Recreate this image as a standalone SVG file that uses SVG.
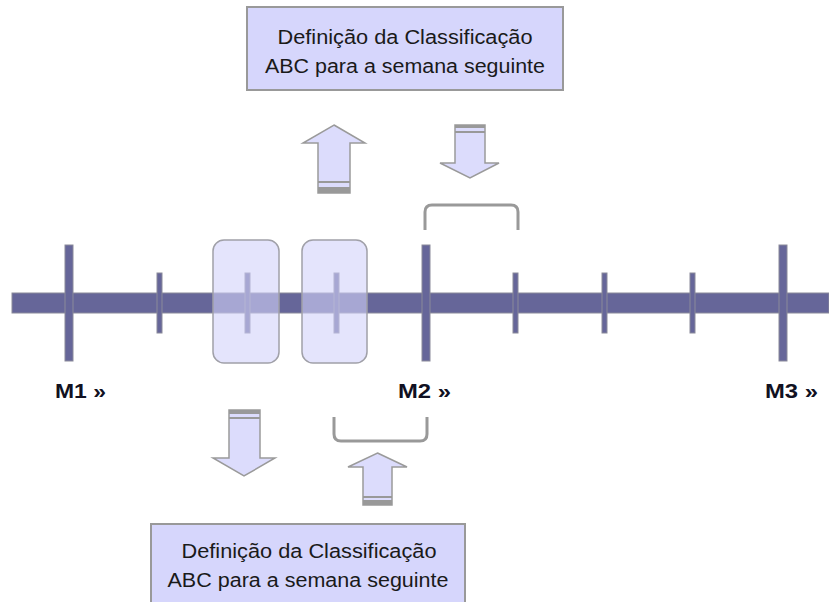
<svg xmlns="http://www.w3.org/2000/svg" width="829" height="602" viewBox="0 0 829 602">
<style>
.bar{fill:#666699;stroke:#8a8a9a;stroke-width:1}
.box{fill:#d6d6fc;stroke:#999999;stroke-width:2}
.txt{font-family:"Liberation Sans",Arial,sans-serif;font-size:20px;fill:#1a1a1a;text-anchor:middle}
.lbl{font-family:"Liberation Sans",Arial,sans-serif;font-size:20px;font-weight:bold;fill:#111122}
.arr{fill:#dcdcfc;stroke:#9a9a9a;stroke-width:1.5}
.stripe{fill:#999999}
.win{fill:#d2d2fa;fill-opacity:0.6;stroke:#a0a0a8;stroke-width:1.5}
.brk{fill:none;stroke:#999999;stroke-width:3}
</style>
<rect width="829" height="602" fill="#ffffff"/>
<g id="timeline">
<rect class="bar" x="12" y="293" width="817" height="20"/>
<rect class="bar" x="65" y="245" width="8" height="116"/>
<rect class="bar" x="157" y="273" width="5" height="60"/>
<rect class="bar" x="245" y="273" width="5" height="60"/>
<rect class="bar" x="334" y="273" width="5" height="60"/>
<rect class="bar" x="422" y="245" width="8" height="116"/>
<rect class="bar" x="513" y="273" width="5" height="60"/>
<rect class="bar" x="602" y="273" width="5" height="60"/>
<rect class="bar" x="690" y="273" width="5" height="60"/>
<rect class="bar" x="779" y="245" width="8" height="116"/>
</g>
<g id="week-window-1"><rect class="win" x="213" y="240" width="66" height="123" rx="11"/></g>
<g id="week-window-2"><rect class="win" x="302" y="240" width="65" height="123" rx="11"/></g>
<g id="labels">
<text class="lbl" x="55" y="398" textLength="51" lengthAdjust="spacingAndGlyphs">M1 »</text>
<text class="lbl" x="398" y="398" textLength="53" lengthAdjust="spacingAndGlyphs">M2 »</text>
<text class="lbl" x="765" y="398" textLength="53" lengthAdjust="spacingAndGlyphs">M3 »</text>
</g>
<g id="box-top">
<rect class="box" x="247" y="7" width="316" height="83"/>
<text class="txt" x="405" y="44" textLength="255" lengthAdjust="spacingAndGlyphs">Definição da Classificação</text>
<text class="txt" x="405" y="73" textLength="280" lengthAdjust="spacingAndGlyphs">ABC para a semana seguinte</text>
</g>
<g id="box-bottom">
<rect class="box" x="151" y="524" width="314" height="85"/>
<text class="txt" x="309" y="558" textLength="255" lengthAdjust="spacingAndGlyphs">Definição da Classificação</text>
<text class="txt" x="308" y="587" textLength="281" lengthAdjust="spacingAndGlyphs">ABC para a semana seguinte</text>
</g>
<g id="connectors">
<g id="arrow-up-top">
<polygon class="arr" points="334,125 365,143 350,143 350,193 318,193 318,143 303,143"/>
<rect class="stripe" x="318" y="181" width="32" height="2"/>
<rect class="stripe" x="318" y="187" width="32" height="6"/>
</g>
<g id="arrow-down-top">
<polygon class="arr" points="455,125 485,125 485,163 499,163 470,178 440,163 455,163"/>
<rect class="stripe" x="455" y="125" width="30" height="3"/>
<rect class="stripe" x="455" y="131" width="30" height="2"/>
</g>
<g id="arrow-down-bottom">
<polygon class="arr" points="229,410 260,410 260,458 275,458 244,476 213,458 229,458"/>
<rect class="stripe" x="229" y="410" width="31" height="4"/>
<rect class="stripe" x="229" y="417" width="31" height="2"/>
</g>
<g id="arrow-up-bottom">
<polygon class="arr" points="377.5,453 407,467 392,467 392,505 363,505 363,467 348,467"/>
<rect class="stripe" x="363" y="496" width="29" height="2"/>
<rect class="stripe" x="363" y="500" width="29" height="5"/>
</g>
<path class="brk" d="M425,230 L425,212 Q425,205 432,205 L511,205 Q518,205 518,212 L518,230"/>
<path class="brk" d="M334,417 L334,434 Q334,441 341,441 L420,441 Q427,441 427,434 L427,417"/>
</g>
</svg>
